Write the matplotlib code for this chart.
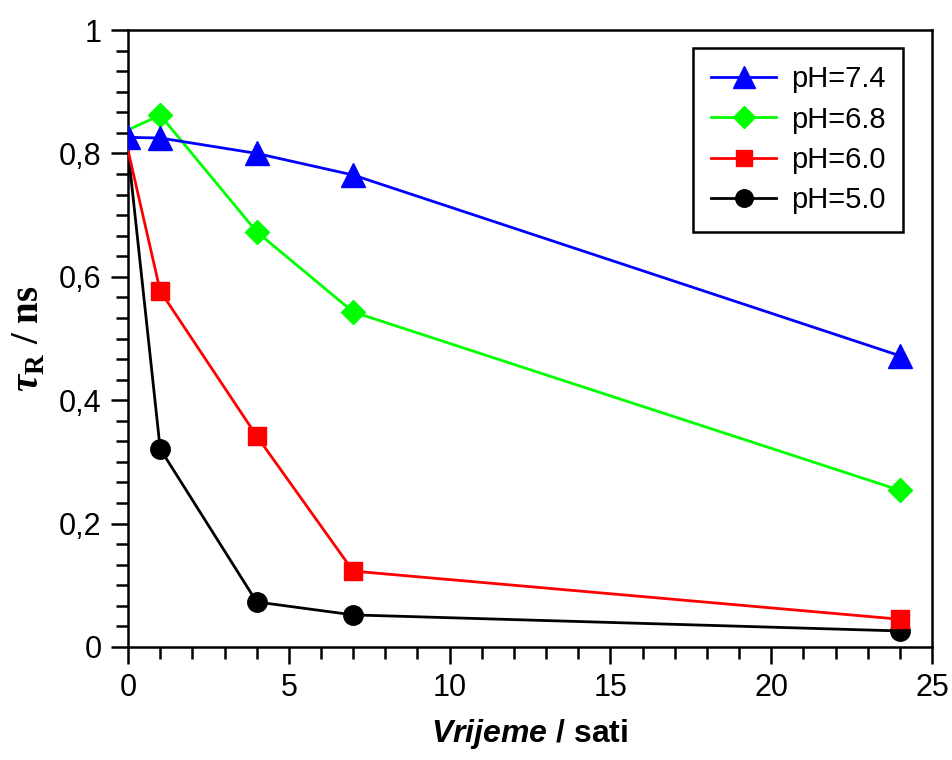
import numpy as np
import matplotlib
matplotlib.use("Agg")
import matplotlib.pyplot as plt
from matplotlib.ticker import MultipleLocator, AutoMinorLocator, FuncFormatter

plt.rcParams['font.family'] = ['Liberation Sans', 'DejaVu Sans']
plt.rcParams['mathtext.fontset'] = 'custom'
plt.rcParams['mathtext.bf'] = 'Liberation Serif:bold'
plt.rcParams['mathtext.bfit'] = 'Liberation Serif:italic:bold'
plt.rcParams['mathtext.sf'] = 'Liberation Sans:italic:bold'

# vrijeme (sati)
t = [0, 1, 4, 7, 24]
# tau_R (ns) za svaki pH
ph74 = [0.826, 0.825, 0.800, 0.765, 0.472]
ph68 = [0.838, 0.862, 0.673, 0.543, 0.254]
ph60 = [0.805, 0.577, 0.342, 0.123, 0.045]
ph50 = [0.805, 0.321, 0.073, 0.052, 0.026]

fig = plt.figure(figsize=(9.52, 7.6), dpi=100)
ax = fig.add_axes([0.1345, 0.1487, 0.8445, 0.8118])

lw = 2.0
skip0 = slice(1, None)  # bez markera u t=0
ax.plot(t, ph50, '-o', color='black', lw=lw, ms=14, markevery=skip0, label='pH=5.0', zorder=3)
ax.plot(t, ph60, '-s', color='#ff0000', lw=lw, ms=13, markevery=skip0, label='pH=6.0', zorder=4)
ax.plot(t, ph68, '-D', color='#00ff00', lw=lw, ms=12, markevery=skip0, label='pH=6.8', zorder=5)
ax.plot(t, ph74, '-^', color='#0000ff', lw=lw, ms=17, label='pH=7.4', zorder=6)

ax.set_xlim(0, 25)
ax.set_ylim(0, 1)
ax.xaxis.set_major_locator(MultipleLocator(5))
ax.xaxis.set_minor_locator(MultipleLocator(1))
ax.yaxis.set_major_locator(MultipleLocator(0.2))
ax.yaxis.set_minor_locator(AutoMinorLocator(6))
ax.yaxis.set_major_formatter(FuncFormatter(lambda v, p: ('%g' % round(v, 2)).replace('.', ',')))

ax.tick_params(which='both', direction='out', width=1.8, top=False, right=False,
               labelsize=22, pad=7)
ax.tick_params(which='major', length=12)
ax.tick_params(which='minor', length=8.5)
for s in ax.spines.values():
    s.set_linewidth(1.8)

ax.set_xlabel(r'$\mathsf{Vrijeme}$ / sati', fontsize=23, fontweight='bold', labelpad=10)
ax.set_ylabel(r'$\mathbfit{\tau}_{\mathbf{R}}$ / ns', fontsize=28, fontweight='bold',
              family='Liberation Serif', labelpad=8)

h, l = ax.get_legend_handles_labels()
leg = ax.legend(h[::-1], l[::-1], loc='upper right', bbox_to_anchor=(0.964, 0.971),
                borderaxespad=0, fontsize=21, fancybox=False, edgecolor='black',
                framealpha=1, handlelength=2.25, handletextpad=0.5, labelspacing=0.42,
                borderpad=0.6, markerscale=0.9)
leg.get_frame().set_linewidth(1.8)

fig.savefig('out.png', dpi=100)
